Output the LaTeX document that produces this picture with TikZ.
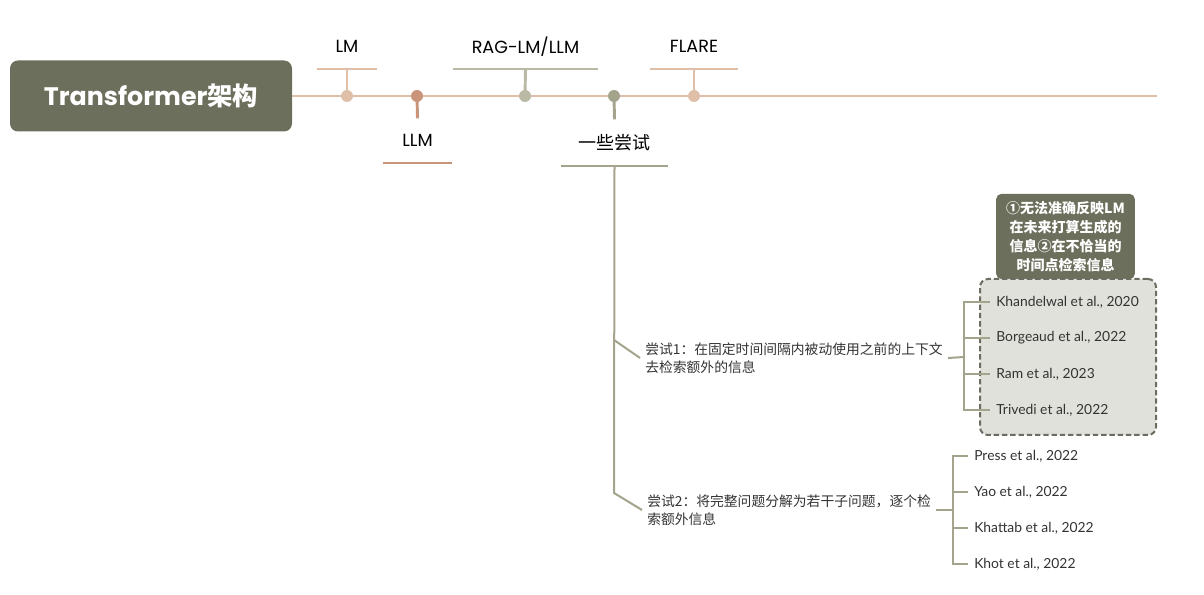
\documentclass[tikz,border=0pt]{standalone}
\usepackage{fontspec}
\setmainfont{Lato}
\newfontfamily\cjk{Noto Sans CJK SC}
\newfontfamily\popfont{Poppins}
\usetikzlibrary{positioning}

\definecolor{rootgray}{HTML}{6C6F5B}
\definecolor{tanC}{HTML}{DFBFA8}
\definecolor{llmC}{HTML}{C99479}
\definecolor{ragC}{HTML}{B9B9A4}
\definecolor{tryC}{HTML}{A4A48D}
\definecolor{boxfill}{HTML}{E1E1DC}
\definecolor{boxline}{HTML}{6C6C60}
\definecolor{textgray}{HTML}{333333}

\tikzset{
  rootbox/.style={fill=rootgray, text=white, rounded corners=6pt,
    minimum width=211.5pt, minimum height=53.25pt,
    font=\popfont\bfseries\fontsize{19}{23}\selectfont},
  mainline/.style={draw=tanC, line width=2.2pt},
  stem/.style={line width=2.2pt},
  bar/.style={line width=2.2pt},
  toplabel/.style={anchor=south, minimum height=33pt, inner sep=0pt,
    font=\popfont\fontsize{13.2}{15}\selectfont},
  trunk/.style={draw=tryC, line width=1.5pt},
  bracket/.style={draw=tryC, line width=1.5pt},
  attempt/.style={anchor=west, align=left, inner xsep=3.75pt, text=textgray,
    font=\cjk\fontsize{10.35}{13.5}\selectfont},
  ref/.style={anchor=west, inner xsep=4.5pt, text=textgray,
    font=\fontsize{10.4}{12}\selectfont},
  groupbox/.style={draw=boxline, fill=boxfill, dashed, dash pattern=on 4pt off 2.2pt,
    line width=1.5pt, rounded corners=6pt, minimum width=132pt, minimum height=117pt},
  callout/.style={fill=rootgray, text=white, align=center, rounded corners=4pt,
    minimum width=104pt, minimum height=64pt, inner sep=1pt,
    font=\cjk\bfseries\fontsize{10.5}{14.25}\selectfont}
}

\begin{document}
\begin{tikzpicture}[x=0.75pt,y=-0.75pt]
  \useasboundingbox (0,0) rectangle (1204,595);

  % root and time line
  \node[rootbox] (root) at (151,96) {Transformer{\cjk 架构}};
  \coordinate (lineend) at (1157,96);
  \draw[mainline] (root.east) -- (lineend);

  % points on the line
  \coordinate (dlm) at (347,96);
  \coordinate (dllm) at (417,96);
  \coordinate (drag) at (525,96);
  \coordinate (dtry) at (614,96);
  \coordinate (dflare) at (694,96);

  % labels above the line
  \node[toplabel, minimum width=45pt] (lm) at (347,69) {LM};
  \node[toplabel, minimum width=108.75pt] (rag) at (525.5,69) {RAG-LM/LLM};
  \node[toplabel, minimum width=66pt] (flare) at (694,69) {FLARE};
  \draw[bar, draw=tanC] (lm.south west) -- (lm.south east);
  \draw[bar, draw=ragC] (rag.south west) -- (rag.south east);
  \draw[bar, draw=tanC] (flare.south west) -- (flare.south east);
  \draw[stem, draw=tanC] (dlm) -- (lm.south);
  \draw[stem, draw=ragC] (drag) -- (rag.south);
  \draw[stem, draw=tanC] (dflare) -- (flare.south);

  % labels below the line
  \node[toplabel, minimum width=51.75pt] (llm) at (417.5,163) {LLM};
  \node[toplabel, minimum width=80.25pt, minimum height=34.5pt,
    font=\cjk\fontsize{13.5}{15}\selectfont] (try) at (614.5,166) {一些尝试};
  \draw[bar, draw=llmC] (llm.south west) -- (llm.south east);
  \draw[bar, draw=tryC] (try.south west) -- (try.south east);
  \draw[stem, draw=llmC] (dllm) -- (llm.north);
  \draw[stem, draw=tryC] (dtry) -- (try.north);

  \fill[tanC] (dlm) circle (4.5pt);
  \fill[llmC] (dllm) circle (4.5pt);
  \fill[ragC] (drag) circle (4.5pt);
  \fill[tryC] (dtry) circle (4.5pt);
  \fill[tanC] (dflare) circle (4.5pt);

  % the two attempts
  \node[attempt] (a1) at (640,358) {尝试1：在固定时间间隔内被动使用之前的上下文\\去检索额外的信息};
  \node[attempt] (a2) at (642,510) {尝试2：将完整问题分解为若干子问题，逐个检\\索额外信息};
  \coordinate (k1) at (614,340);
  \coordinate (k2) at (614,493);
  \draw[trunk] (try.south) -- (k2) -- (a2.west);
  \draw[trunk] (k1) -- (a1.west);

  % note and group of the first attempt
  \node[callout] (note) at (1065.5,236.5) {①无法准确反映LM\\在未来打算生成的\\信息②在不恰当的\\时间点检索信息};
  \node[groupbox] (g1) at (1068,357) {};

  \node[ref] (r11) at (990,302) {Khandelwal et al., 2020};
  \node[ref] (r12) at (990,338) {Borgeaud et al., 2022};
  \node[ref] (r13) at (990,374) {Ram et al., 2023};
  \node[ref] (r14) at (990,410) {Trivedi et al., 2022};
  \coordinate (b1) at (964,357);
  \draw[bracket] (a1.east) -- (b1);
  \draw[bracket] (b1) |- (r11.west);
  \draw[bracket] (b1) |- (r12.west);
  \draw[bracket] (b1) |- (r13.west);
  \draw[bracket] (b1) |- (r14.west);

  % references of the second attempt
  \node[ref] (r21) at (968,456) {Press et al., 2022};
  \node[ref] (r22) at (968,492) {Yao et al., 2022};
  \node[ref] (r23) at (968,528) {Khattab et al., 2022};
  \node[ref] (r24) at (968,564) {Khot et al., 2022};
  \coordinate (b2) at (953,510);
  \draw[bracket] (a2.east) -- (b2);
  \draw[bracket] (b2) |- (r21.west);
  \draw[bracket] (b2) |- (r22.west);
  \draw[bracket] (b2) |- (r23.west);
  \draw[bracket] (b2) |- (r24.west);
\end{tikzpicture}
\end{document}
